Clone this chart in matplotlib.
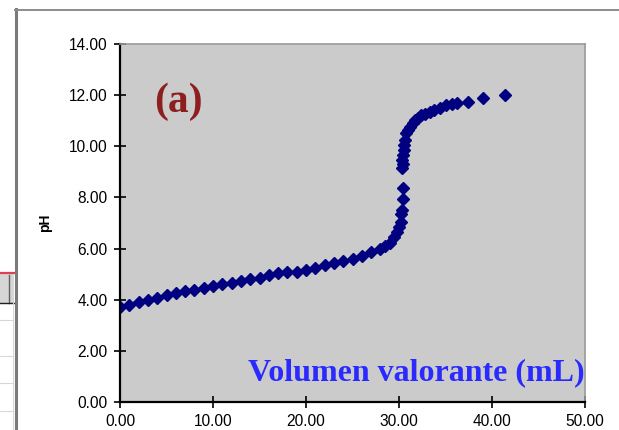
import matplotlib
matplotlib.use("Agg")
import matplotlib.pyplot as plt
from matplotlib.lines import Line2D
from matplotlib.patches import Rectangle

# ---- data ----
volume_ml = [0.0, 1.0, 2.0, 3.0, 4.0, 5.0, 6.0, 7.0, 8.0, 9.0,
             10.0, 11.0, 12.0, 13.0, 14.0, 15.0, 16.0, 17.0, 18.0, 19.0,
             20.0, 21.0, 22.0, 23.0, 24.0, 25.0, 26.0, 27.0, 28.0, 28.5,
             29.0, 29.5, 29.8, 30.0, 30.2, 30.2, 30.3, 30.4, 30.4, 30.3,
             30.4, 30.35, 30.45, 30.5, 30.55, 30.65, 30.8, 31.0, 31.2, 31.5,
             31.7, 32.0, 32.4, 32.8, 33.3, 33.8, 34.4, 35.1, 35.7, 36.2,
             37.4, 39.0, 41.4]
ph_values = [3.70, 3.80, 3.90, 3.97, 4.05, 4.17, 4.28, 4.33, 4.37, 4.46,
             4.55, 4.60, 4.67, 4.74, 4.80, 4.84, 4.95, 5.03, 5.07, 5.10,
             5.15, 5.24, 5.35, 5.42, 5.50, 5.58, 5.70, 5.85, 6.00, 6.10,
             6.22, 6.45, 6.65, 6.85, 7.05, 7.35, 7.50, 7.92, 8.36, 9.14,
             9.30, 9.46, 9.65, 9.86, 10.05, 10.25, 10.51, 10.65, 10.77, 10.90,
             11.03, 11.12, 11.22, 11.28, 11.35, 11.42, 11.48, 11.60, 11.65, 11.71,
             11.74, 11.87, 12.00]

x_ticks = [0, 10, 20, 30, 40, 50]
y_ticks = [0, 2, 4, 6, 8, 10, 12, 14]
y_label = "pH"
panel_label = "(a)"
x_title = "Volumen valorante (mL)"

W, H = 619, 430
fig = plt.figure(figsize=(W / 100, H / 100), dpi=100)
fig.patch.set_facecolor("white")


def fx(px):
    return px / W


def fy(py):
    return 1 - py / H


# ---- spreadsheet / chart-area decorations at the left ----
fig.add_artist(Rectangle((fx(0), fy(303)), fx(14), 29 / H, transform=fig.transFigure,
                         facecolor="#d6d6d6", edgecolor="none"))
fig.add_artist(Line2D([fx(0), fx(14)], [fy(273), fy(273)], transform=fig.transFigure,
                      color="#e0404f", lw=1.6))
fig.add_artist(Line2D([fx(9), fx(9)], [fy(275), fy(303)], transform=fig.transFigure,
                      color="#606060", lw=1.0))
fig.add_artist(Line2D([fx(0), fx(14)], [fy(303), fy(303)], transform=fig.transFigure,
                      color="#202020", lw=1.0))
for gy in [320, 356, 383, 411]:
    fig.add_artist(Line2D([fx(0), fx(13)], [fy(gy), fy(gy)], transform=fig.transFigure,
                          color="#d8d8d8", lw=0.8))
fig.add_artist(Line2D([fx(13), fx(13)], [fy(303), fy(430)], transform=fig.transFigure,
                      color="#d8d8d8", lw=0.8))
fig.add_artist(Line2D([fx(15.5), fx(15.5)], [fy(9), fy(430)], transform=fig.transFigure,
                      color="#7a7a7a", lw=2.2))
fig.add_artist(Line2D([fx(15), fx(619)], [fy(10), fy(10)], transform=fig.transFigure,
                      color="#8c8c8c", lw=1.4))

# ---- axes ----
ax = fig.add_axes([fx(120), fy(402), fx(465), 358 / H])
ax.set_facecolor("#cbcbcb")
ax.plot(volume_ml, ph_values, linestyle="none", marker="D", markersize=6.3,
        color="#000080", markeredgecolor="#000080")

ax.set_xlim(0, 50)
ax.set_ylim(0, 14)
ax.set_xticks(x_ticks)
ax.set_yticks(y_ticks)
ax.set_xticklabels([f"{v:.2f}" for v in x_ticks], family="Liberation Sans")
ax.set_yticklabels([f"{v:.2f}" for v in y_ticks], family="Liberation Sans")
ax.tick_params(direction="inout", length=8, width=1.2, labelsize=11.2,
               colors="black")
ax.tick_params(axis="y", pad=5)
ax.tick_params(axis="x", pad=5)

for s in ["left", "bottom"]:
    ax.spines[s].set_color("black")
    ax.spines[s].set_linewidth(1.6)
for s in ["top", "right"]:
    ax.spines[s].set_color("#9a9a9a")
    ax.spines[s].set_linewidth(1.2)

ax.set_ylabel(y_label, fontsize=10, fontweight="bold", family="Liberation Sans")
ax.yaxis.set_label_coords((52 - 120) / 465, 0.5)

ax.text(3.7, 11.35, panel_label, fontsize=30, fontweight="bold",
        family="Liberation Serif", color="#8e1f1f", ha="left", va="baseline")
ax.text(50, 0.86, x_title, fontsize=23, fontweight="bold", family="Liberation Serif",
        color="#2a2aff", ha="right", va="baseline")

fig.savefig("out.png", dpi=100)
